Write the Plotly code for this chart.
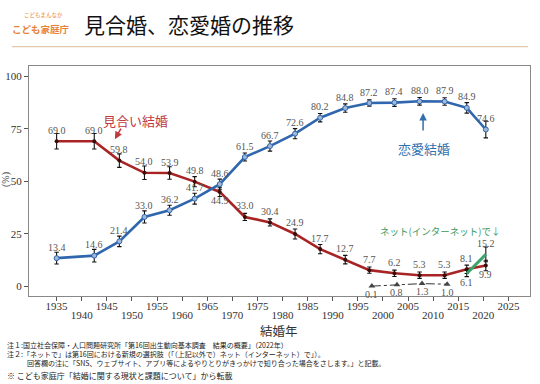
import plotly.graph_objects as go

# ---------------- data ----------------
years = [1935, 1942.5, 1947.5, 1952.5, 1957.5, 1962.5, 1967.5, 1972.5, 1977.5,
         1982.5, 1987.5, 1992.5, 1997.3, 2002.3, 2007.3, 2012.3, 2016.7, 2020.5]
love = [13.4, 14.6, 21.4, 33.0, 36.2, 41.7, 48.6, 61.5, 66.7, 72.6, 80.2, 84.8,
        87.2, 87.4, 88.0, 87.9, 84.9, 74.6]
love_err = [2.8, 3.0, 2.5, 2.9, 2.4, 2.6, 2.4, 1.9, 2.4, 2.4, 2.0, 2.0,
            1.5, 1.8, 1.8, 1.8, 2.5, 4.0]
arranged = [69.0, 69.0, 59.8, 54.0, 53.9, 49.8, 44.9, 33.0, 30.4, 24.9, 17.7, 12.7,
            7.7, 6.2, 5.3, 5.3, 8.1, 9.9]
arranged_err = [3.7, 3.7, 3.2, 3.2, 3.0, 2.4, 2.2, 1.7, 1.7, 2.4, 2.2, 2.0,
                1.5, 1.5, 1.5, 1.5, 2.0, 2.5]
net_years = [2016.7, 2020.5]
net = [6.1, 15.2]
net_err = [1.5, 3.5]
old_net_years = [1997.8, 2002.8, 2007.8, 2012.8]
old_net = [0.1, 0.8, 1.3, 1.0]

xtick_top = [1935, 1945, 1955, 1965, 1975, 1985, 1995, 2005, 2015, 2025]
xtick_bottom = [1940, 1950, 1960, 1970, 1980, 1990, 2000, 2010, 2020]
ytick_vals = [0, 25, 50, 75, 100]

# ---------------- layout helpers ----------------
W, H = 540, 384
L, R, T, B = 29, 530, 66, 296


def px(x):
    return (x - L) / (R - L)


def py(y):
    return (B - y) / (B - T)


BLUE = "#2f66ad"
RED = "#a82424"
GREEN = "#3aa56b"
SERIF = "Liberation Serif, DejaVu Serif, serif"
JP = "Noto Sans CJK JP"

fig = go.Figure()

err_style = dict(type="data", color="#111", thickness=1.1, width=2.2)

fig.add_trace(go.Scatter(
    x=years, y=arranged, mode="lines+markers",
    line=dict(color=RED, width=2.6),
    marker=dict(size=4, color="#3a0c0c"),
    error_y=dict(array=arranged_err, **err_style),
    showlegend=False, hoverinfo="skip"))

fig.add_trace(go.Scatter(
    x=years, y=love, mode="lines+markers",
    line=dict(color=BLUE, width=2.6),
    marker=dict(size=5, color="#9fb8d8", line=dict(color=BLUE, width=1)),
    error_y=dict(array=love_err, **err_style),
    showlegend=False, hoverinfo="skip"))

fig.add_trace(go.Scatter(
    x=old_net_years, y=old_net, mode="lines+markers",
    line=dict(color="#333", width=1, dash="dashdot"),
    marker=dict(symbol="triangle-up", size=6, color="#444"),
    showlegend=False, hoverinfo="skip"))

fig.add_trace(go.Scatter(
    x=net_years, y=net, mode="lines",
    line=dict(color=GREEN, width=3),
    error_y=dict(array=net_err, **err_style),
    showlegend=False, hoverinfo="skip"))

# dummy trace to activate the second (staggered) tick row
fig.add_trace(go.Scatter(x=[xtick_bottom[0]], y=[None], xaxis="x2", yaxis="y",
                         mode="markers", showlegend=False, hoverinfo="skip"))

ann = []
label_font = dict(family=SERIF, size=10, color="#555")


def add_labels(xs, ys, below=(), dy_up=11, dy_down=-9):
    for i, (xv, yv) in enumerate(zip(xs, ys)):
        ann.append(dict(x=xv, y=yv, xref="x", yref="y", text=f"{yv:.1f}",
                        showarrow=False, font=label_font,
                        xanchor="center", yanchor="middle",
                        yshift=dy_down if i in below else dy_up))


add_labels(years, love)
add_labels(years, arranged, below={6, 17})
add_labels(net_years, net, below={0})
add_labels(old_net_years, old_net, below={0, 1, 2, 3}, dy_down=-8)

# series annotations
ann.append(dict(x=1950.8, y=79, xref="x", yref="y", text="見合い結婚", showarrow=False,
                xanchor="center", yanchor="middle",
                font=dict(family=JP, size=13, color="#c0393f")))
ann.append(dict(x=1946.6, y=70, xref="x", yref="y", text="", showarrow=True,
                arrowhead=2, arrowsize=1, arrowwidth=1.5, arrowcolor="#c0393f",
                ax=7, ay=-12))
ann.append(dict(x=2008.2, y=65.7, xref="x", yref="y", text="恋愛結婚", showarrow=False,
                xanchor="center", yanchor="middle",
                font=dict(family=JP, size=13, color="#2f6fae")))
ann.append(dict(x=2008, y=82.4, xref="x", yref="y", text="", showarrow=True,
                arrowhead=2, arrowsize=1, arrowwidth=1.5, arrowcolor="#2f6fae",
                ax=0, ay=19))
ann.append(dict(x=2011.4, y=26.2, xref="x", yref="y", text="ネット(インターネット)で↓",
                showarrow=False, xanchor="center", yanchor="middle",
                font=dict(family=JP, size=9.5, color="#3a9a5e")))

# axis captions
ann.append(dict(x=px(6), y=py(180), xref="paper", yref="paper", text="(%)",
                textangle=-90, showarrow=False, xanchor="center", yanchor="middle",
                font=dict(family=SERIF, size=10, color="#444")))
ann.append(dict(x=px(279), y=py(330), xref="paper", yref="paper", text="結婚年",
                showarrow=False, xanchor="center", yanchor="middle",
                font=dict(family=JP, size=12.5, color="#333")))

# header
ann.append(dict(x=px(43), y=py(15), xref="paper", yref="paper", text="こどもまんなか",
                showarrow=False, xanchor="center", yanchor="middle",
                font=dict(family=JP, size=5.5, color="#e8833a")))
ann.append(dict(x=px(41), y=py(29), xref="paper", yref="paper", text="<b>こども家庭庁</b>",
                showarrow=False, xanchor="center", yanchor="middle",
                font=dict(family=JP, size=9.5, color="#e8833a")))
ann.append(dict(x=px(82), y=py(24), xref="paper", yref="paper", text="見合婚、恋愛婚の推移",
                xanchor="left", yanchor="middle", showarrow=False,
                font=dict(family=JP, size=21, color="#111")))

# footnotes
foot = [
    (5, 345, "注１:国立社会保障・人口問題研究所「第16回出生動向基本調査　結果の概要」（2022年）", 7),
    (5, 354, "注２:「ネットで」は第16回における新規の選択肢（「（上記以外で）ネット（インターネット）で」）。", 7),
    (25, 362.5, "回答欄の注に「SNS、ウェブサイト、アプリ等によるやりとりがきっかけで知り合った場合をさします。」と記載。", 7),
    (5, 375.5, "※ こども家庭庁「結婚に関する現状と課題について」から転載", 8),
]
for fx, fy, ftxt, fs in foot:
    ann.append(dict(x=px(fx), y=py(fy), xref="paper", yref="paper", text=ftxt,
                    xanchor="left", yanchor="middle", showarrow=False,
                    font=dict(family=JP, size=fs, color="#222")))

axis_font = dict(family=SERIF, size=11, color="#333")
xrange = [1929.5, 2029.3]

fig.update_layout(
    width=W, height=H,
    margin=dict(l=L, r=W - R, t=T, b=H - B, autoexpand=False),
    paper_bgcolor="white", plot_bgcolor="white",
    hovermode=False,
    xaxis=dict(range=xrange, tickvals=xtick_top, ticktext=[str(v) for v in xtick_top],
               ticks="outside", ticklen=4, tickcolor="#555", tickfont=axis_font,
               ticklabelstandoff=-4,
               showline=True, mirror=True, linecolor="#888", linewidth=1.3,
               showgrid=False, zeroline=False, automargin=False),
    xaxis2=dict(range=xrange, overlaying="x", anchor="y", side="bottom",
                tickvals=xtick_bottom, ticktext=[str(v) for v in xtick_bottom],
                ticks="outside", ticklen=4, tickcolor="#555", tickfont=axis_font,
                ticklabelstandoff=5, showline=False, showgrid=False, zeroline=False,
                automargin=False),
    yaxis=dict(range=[-4.6, 104.8], tickvals=ytick_vals, ticks="outside", ticklen=4,
               tickcolor="#555", tickfont=axis_font,
               showline=True, mirror=True, linecolor="#888", linewidth=1.3,
               showgrid=False, zeroline=False, automargin=False),
    annotations=ann,
    shapes=[dict(type="line", xref="paper", yref="paper", x0=px(12), x1=px(528),
                 y0=py(46.7), y1=py(46.7), line=dict(color="#e3c8ac", width=1.2))],
)

fig.write_html("out.html", config={"displayModeBar": False},
               post_script="document.body.style.margin='0px';document.body.style.padding='0px';")
